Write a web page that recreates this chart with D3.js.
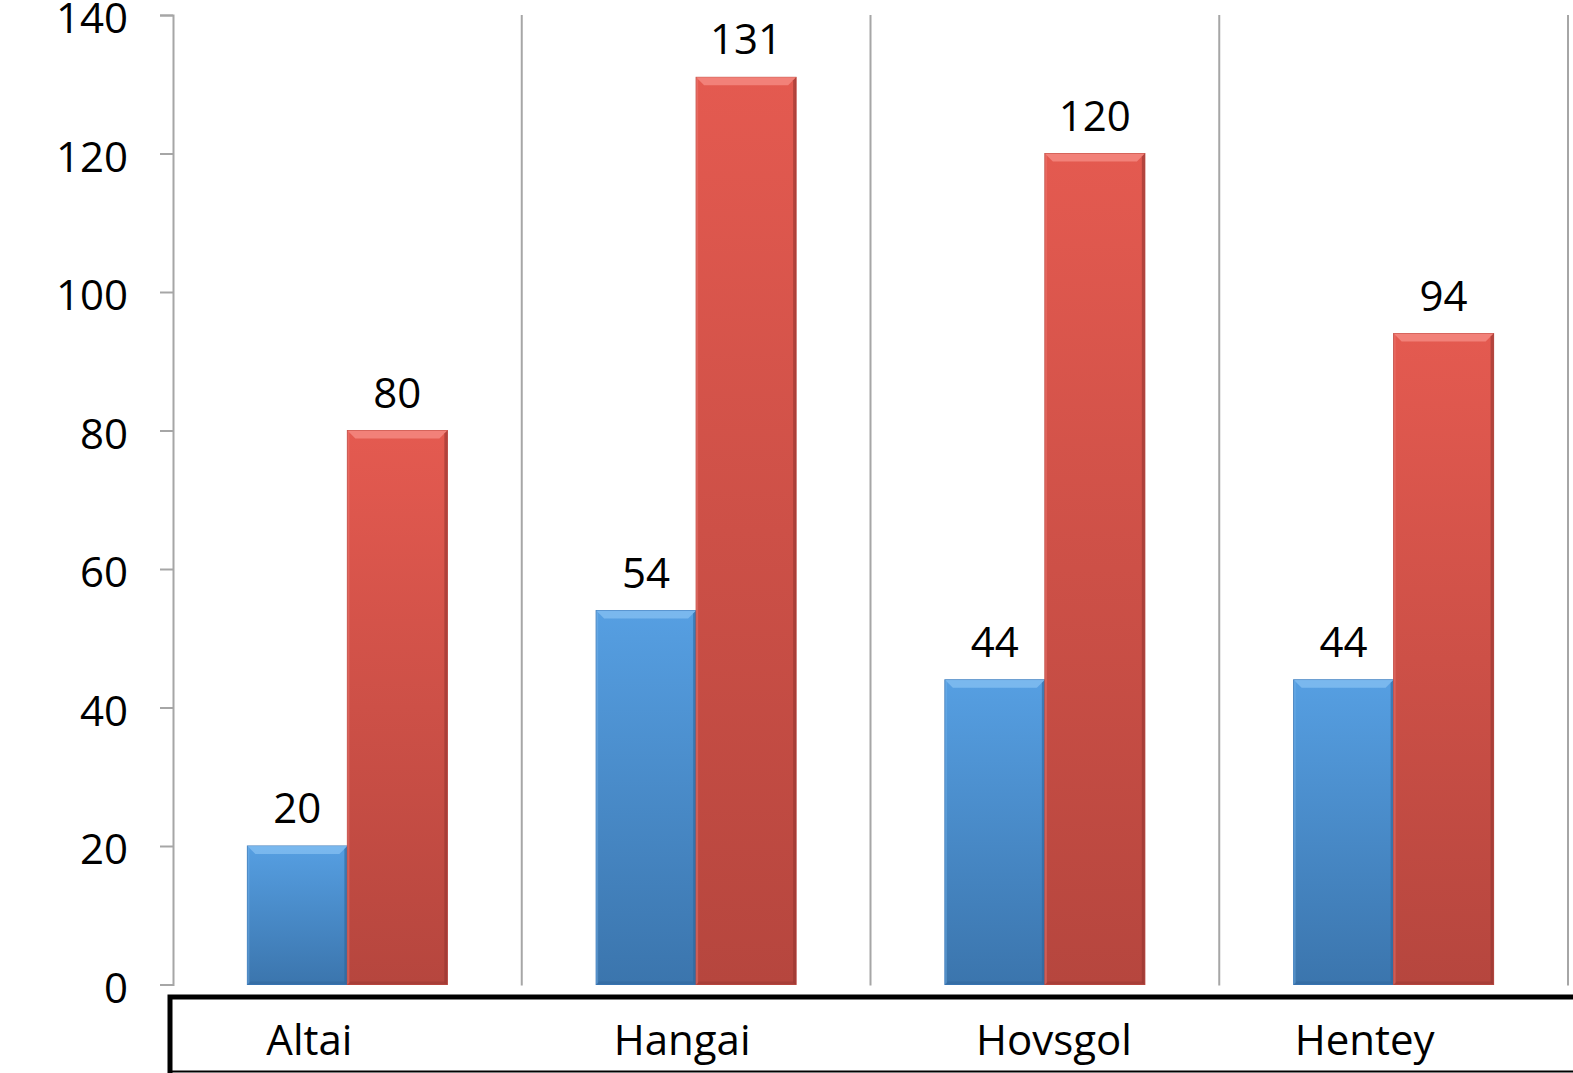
<!DOCTYPE html>
<html><head><meta charset="utf-8">
<script src="https://cdn.jsdelivr.net/npm/d3@7"></script>
<style>html,body{margin:0;padding:0;background:#fff;overflow:hidden}</style>
</head><body>
<svg id="c" width="1573" height="1073"></svg>
<script>
const categories = ["Altai", "Hangai", "Hovsgol", "Hentey"];
const seriesA = [20, 54, 44, 44];
const seriesB = [80, 131, 120, 94];
const yTicks = [0, 20, 40, 60, 80, 100, 120, 140];

(function () {
const svg = d3.select("#c");
const FONT = "'Open Sans', 'Noto Sans', sans-serif";
const FS = 42;
const pLeft = 173, pRight = 1568, pTop = 15, pBottom = 984.5;

const y = d3.scaleLinear().domain([0, 140]).range([pBottom, pTop]);
const x0 = d3.scaleBand().domain(categories).range([pLeft, pRight]).padding(0);
const x1 = d3.scaleBand().domain(["A", "B"]).range([0, x0.bandwidth()]).paddingInner(0).paddingOuter(0.744);

const defs = svg.append("defs");
function grad(id, c1, c2) {
  const g = defs.append("linearGradient").attr("id", id).attr("x1", 0).attr("y1", 0).attr("x2", 0).attr("y2", 1);
  g.append("stop").attr("offset", "0%").attr("stop-color", c1);
  g.append("stop").attr("offset", "100%").attr("stop-color", c2);
}
grad("gA", "#569fe2", "#3b75ad");
grad("gB", "#e45a50", "#b6463e");

// separators
svg.append("g").selectAll("line").data(categories).join("line")
  .attr("x1", d => x0(d) + x0.bandwidth()).attr("x2", d => x0(d) + x0.bandwidth())
  .attr("y1", pTop).attr("y2", pBottom + 1)
  .attr("stroke", "#a6a6a6").attr("stroke-width", 2);

// y axis
const ax = svg.append("g").attr("transform", `translate(${pLeft},0)`)
  .call(d3.axisLeft(y).tickValues(yTicks).tickSize(13).tickPadding(32).tickFormat(d3.format("d")));
ax.select(".domain").attr("stroke", "#a6a6a6").attr("stroke-width", 2);
ax.selectAll(".tick line").attr("stroke", "#a6a6a6").attr("stroke-width", 2);
ax.selectAll(".tick text").attr("font-family", FONT).attr("font-size", FS).attr("fill", "#000").attr("dy", "0.42em");

// bars
const series = [
  { key: "A", values: seriesA, fill: "url(#gA)", light: "#80bcf0", dark: "#2f6498", edge: "#3a78b8" },
  { key: "B", values: seriesB, fill: "url(#gB)", light: "#f58880", dark: "#943630", edge: "#c04a42" }
];
const bev = 8;
series.forEach(s => {
  const g = svg.append("g");
  categories.forEach((c, i) => {
    const x = x0(c) + x1(s.key), w = x1.bandwidth(), yt = y(s.values[i]), h = pBottom - yt;
    g.append("rect").attr("x", x).attr("y", yt).attr("width", w).attr("height", h)
      .attr("fill", s.fill).attr("stroke", s.edge).attr("stroke-width", 1);
    g.append("path").attr("d", `M${x},${yt}L${x + w},${yt}L${x + w - bev},${yt + bev}L${x + bev},${yt + bev}Z`)
      .attr("fill", s.light).attr("opacity", 0.85);
    g.append("path").attr("d", `M${x + w},${yt}L${x + w},${pBottom}L${x + w - 3},${pBottom - 2}L${x + w - 3},${yt + 3}Z`)
      .attr("fill", s.dark).attr("opacity", 0.6);
    g.append("path").attr("d", `M${x},${yt}L${x + 2},${yt + 2}L${x + 2},${pBottom - 1}L${x},${pBottom}Z`)
      .attr("fill", s.light).attr("opacity", 0.35);
    g.append("path").attr("d", `M${x},${pBottom}L${x + w},${pBottom}L${x + w - 3},${pBottom - 3}L${x + 3},${pBottom - 3}Z`)
      .attr("fill", s.dark).attr("opacity", 0.45);
    svg.append("text").attr("x", x + w / 2).attr("y", yt - 23)
      .attr("text-anchor", "middle").attr("font-family", FONT).attr("font-size", FS).attr("fill", "#000")
      .text(s.values[i]);
  });
});

// category table box
svg.append("path").attr("d", `M170,1080L170,997L1580,997`)
  .attr("fill", "none").attr("stroke", "#000").attr("stroke-width", 5);
svg.append("line").attr("x1", 170).attr("x2", 1580).attr("y1", 1071.5).attr("y2", 1071.5)
  .attr("stroke", "#000").attr("stroke-width", 2);

const labelNudge = [-38, -14, 9, -29];
svg.append("g").selectAll("text").data(categories).join("text")
  .attr("x", (d, i) => x0(d) + x0.bandwidth() / 2 + labelNudge[i])
  .attr("y", 1055)
  .attr("text-anchor", "middle").attr("font-family", FONT).attr("font-size", FS).attr("fill", "#000")
  .text(d => d);
})();
</script>
</body></html>
